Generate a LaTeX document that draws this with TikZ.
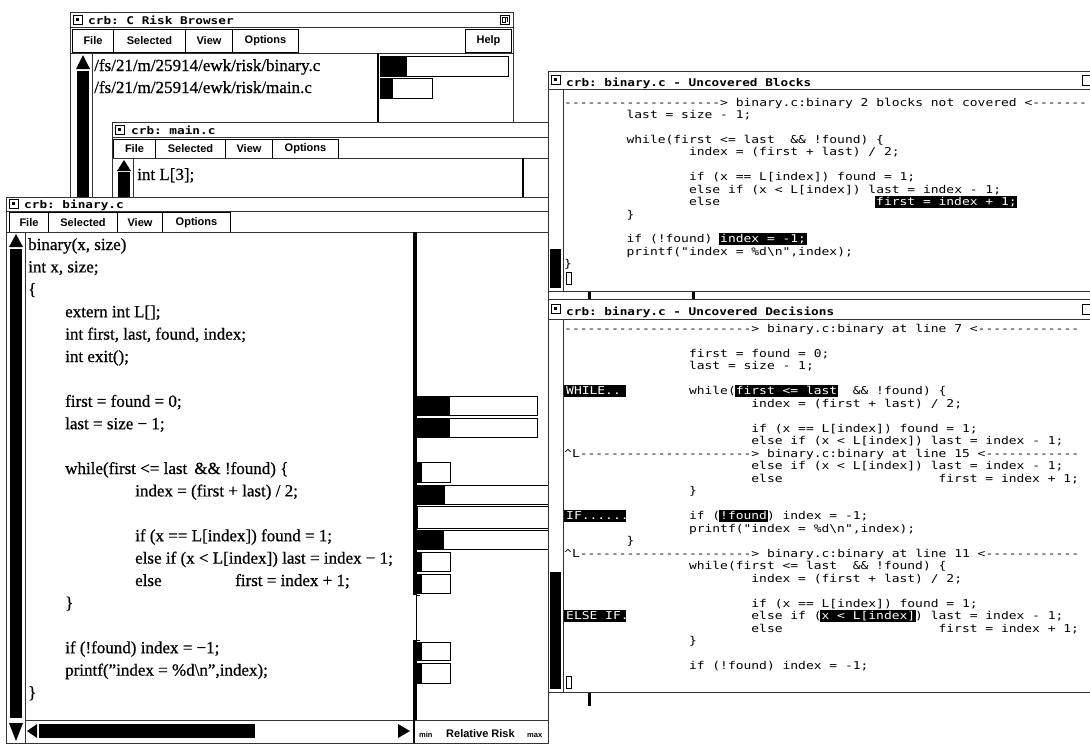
\documentclass[tikz,border=0pt]{standalone}
\usepackage{fontspec}
\setmainfont[FakeBold=0.6]{Liberation Serif}
\newfontfamily\monof[FakeStretch=1.2,Ligatures=TeXOff]{DejaVu Sans Mono}
\newfontfamily\uif{Liberation Sans}
\tikzset{
  frame/.style={draw=black!80, line width=0.9pt, fill=white},
  rule/.style={draw=black!80, line width=0.7pt},
  ttl/.style={anchor=base west, inner sep=0pt, font=\monof\bfseries\fontsize{10.6}{12}\selectfont},
  mbtn/.style={draw=black, line width=1pt, fill=white, inner sep=0pt, anchor=north west, font=\uif\bfseries\fontsize{11}{12}\selectfont},
  src/.style={anchor=base west, inner sep=0pt, font=\fontsize{17}{20}\selectfont},
  mono/.style={anchor=base west, inner sep=0pt, font=\monof\fontsize{10.8}{12}\selectfont},
  hl/.style={mono, text=white},
  bar/.style={draw=black, line width=0.8pt, fill=white},
  lbl/.style={anchor=base west, inner sep=0pt, font=\uif\bfseries\fontsize{11}{12}\selectfont},
  tiny/.style={anchor=base west, inner sep=0pt, font=\uif\bfseries\fontsize{7.5}{9}\selectfont},
}
% text helpers: column/row placement in the two report windows
\newcommand\topln[3]{\node[mono] at ({564+(#1)*7.8},{106+(#2)*12.45}) {#3};}
\newcommand\tophl[4]{\fill ({563+(#1)*7.8},{96.5+(#2)*12.45}) rectangle ({565+(#1+#3)*7.8},{108.5+(#2)*12.45});
  \node[hl] at ({564+(#1)*7.8},{106+(#2)*12.45}) {#4};}
\newcommand\botln[3]{\node[mono] at ({564+(#1)*7.8},{332+(#2)*12.5}) {#3};}
\newcommand\bothl[4]{\fill ({563+(#1)*7.8},{322.5+(#2)*12.5}) rectangle ({565+(#1+#3)*7.8},{334.5+(#2)*12.5});
  \node[hl] at ({564+(#1)*7.8},{332+(#2)*12.5}) {#4};}
\newcommand\botlbl[2]{\fill (564,{322.5+(#1)*12.5}) rectangle (626,{334.5+(#1)*12.5});
  \node[hl] at (566,{332+(#1)*12.5}) {#2};}
\newcommand\srcln[3]{\node[src] at (#1,{250+(#2)*22.4}) {#3};}
\newcommand\winicon[2]{\draw[line width=0.6pt] (#1,#2) rectangle ++(9,9); \fill ({#1+3},{#2+3}) rectangle ++(3,3);}
\newcommand\riskbar[4]{\draw[bar] (417,#1) rectangle (#4,#2); \fill (417,#1) rectangle (#3,#2);}
\begin{document}
\frenchspacing
\begin{tikzpicture}[x=1pt,y=-1pt]
\useasboundingbox[fill=white] (0,0) rectangle (1090,745);

% ---------- browser window ----------
\path[frame] (70,12) rectangle (513,205);
\path[rule] (70,27) -- (513,27);
\winicon{73}{15}
\node[ttl] (brtitle) at (88,24) {crb: C Risk Browser};
\draw[line width=0.6pt] (500,15) rectangle ++(9,9);
\draw[line width=0.6pt] (502,17) rectangle ++(3,5) (505,17) -- ++(2,0) -- ++(0,5);
\node[mbtn, minimum width=41, minimum height=23] (brfile) at (72,29) {File};
\node[mbtn, minimum width=72, minimum height=23] (brsel) at (113,29) {Selected};
\node[mbtn, minimum width=47, minimum height=23] (brview) at (185,29) {View};
\node[mbtn, minimum width=66, minimum height=23] (bropt) at (232,29) {Options};
\node[mbtn, minimum width=46, minimum height=23] (brhelp) at (465,29) {Help};
\path[rule] (70,53) -- (513,53);
\fill (83,55) -- (90,69) -- (76,69) -- cycle;
\fill (77,71) rectangle (89,205);
\path[rule] (92,53) -- (92,205);
\node[src] (p1) at (94,71) {/fs/21/m/25914/ewk/risk/binary.c};
\node[src] (p2) at (94,93) {/fs/21/m/25914/ewk/risk/main.c};
\draw[line width=1.2pt] (378,53) -- (378,205);
\draw[bar] (380,56) rectangle (508,76); \fill (380,56) rectangle (407,76);
\draw[bar] (380,78) rectangle (432,98); \fill (380,78) rectangle (393,98);

% ---------- main.c window ----------
\path[frame] (112,122) rectangle (548,205);
\path[rule] (112,137) -- (548,137);
\winicon{115}{125}
\node[ttl] (mntitle) at (131,134) {crb: main.c};
\node[mbtn, minimum width=42, minimum height=19] (mnfile) at (113,139) {File};
\node[mbtn, minimum width=70, minimum height=19] (mnsel) at (155,139) {Selected};
\node[mbtn, minimum width=47, minimum height=19] (mnview) at (225,139) {View};
\node[mbtn, minimum width=66, minimum height=19] (mnopt) at (272,139) {Options};
\path[rule] (112,158) -- (548,158);
\fill (124,160) -- (131,171) -- (117,171) -- cycle;
\fill (118,172) rectangle (130,205);
\path[rule] (133,158) -- (133,205);
\node[src] (mnsrc) at (137,180) {int L[3];};
\draw[line width=1.2pt] (523,158) -- (523,205);

% ---------- binary.c source window ----------
\path[frame] (6,197) rectangle (548,743);
\path[rule] (6,211) -- (548,211);
\winicon{9}{199}
\node[ttl] (bntitle) at (24,208) {crb: binary.c};
\node[mbtn, minimum width=39, minimum height=20] (bnfile) at (9,212) {File};
\node[mbtn, minimum width=69, minimum height=20] (bnsel) at (48,212) {Selected};
\node[mbtn, minimum width=45, minimum height=20] (bnview) at (117,212) {View};
\node[mbtn, minimum width=68, minimum height=20] (bnopt) at (162,212) {Options};
\path[rule] (6,232) -- (548,232);
% vertical scrollbar
\fill (16,234) -- (23,247) -- (9,247) -- cycle;
\fill (10,249) rectangle (22,718);
\fill (16,741) -- (23,723) -- (9,723) -- cycle;
\path[rule] (25,232) -- (25,743);
% source text
\srcln{28}{0}{binary(x, size)}
\srcln{28}{1}{int x, size;}
\srcln{28}{2}{\{}
\srcln{65}{3}{extern int L[];}
\srcln{65}{4}{int first, last, found, index;}
\srcln{65}{5}{int exit();}
\srcln{65}{7}{first = found = 0;}
\srcln{65}{8}{last = size − 1;}
\srcln{65}{10}{while(first <= last\hspace{7pt}\&\& !found) \{}
\srcln{135}{11}{index = (first + last) / 2;}
\srcln{135}{13}{if (x == L[index]) found = 1;}
\srcln{135}{14}{else if (x < L[index]) last = index − 1;}
\srcln{135}{15}{else}
\srcln{235}{15}{first = index + 1;}
\srcln{65}{16}{\}}
\srcln{65}{18}{if (!found) index = −1;}
\srcln{65}{19}{printf("index = \%d\textbackslash n",index);}
\srcln{28}{20}{\}}
% divider between code and risk column
\fill (413,232) rectangle (417,595);
\draw[line width=0.8pt] (416,595) -- (416,640);
\draw[line width=0.8pt] (416,595) -- (420,595) (416,640) -- (420,640);
\fill (413,640) rectangle (417,720);
% risk bars
\riskbar{396}{415}{450}{537}
\riskbar{418}{437}{450}{537}
\riskbar{462}{482}{422}{450}
\riskbar{485}{504}{445}{548}
\draw[bar] (417,506) rectangle (548,528);
\riskbar{530}{549}{444}{548}
\riskbar{552}{571}{422}{450}
\riskbar{574}{593}{422}{450}
\riskbar{642}{660}{422}{450}
\riskbar{663}{683}{422}{450}
% horizontal scrollbar and scale
\path[rule] (25,720) -- (548,720);
\fill (27,731) -- (37,724) -- (37,738) -- cycle;
\fill (39,724) rectangle (255,738);
\fill (410,731) -- (398,724) -- (398,738) -- cycle;
\draw[line width=1.2pt] (414,720) -- (414,743);
\node[tiny] (rmin) at (419,737) {min};
\node[lbl] (rrisk) at (446,737) {Relative Risk};
\node[tiny] (rmax) at (527,737) {max};

% ---------- uncovered blocks window ----------
\fill (588,289) rectangle (591,300);
\fill (692,289) rectangle (695,300);
\fill (588,690) rectangle (591,706);
\begin{scope}
\clip (546,69) rectangle (1090,293);
\path[frame] (548,71) rectangle (1100,291);
\path[rule] (548,89) -- (1100,89);
\winicon{551}{75}
\node[ttl] (ubtitle) at (566,86) {crb: binary.c - Uncovered Blocks};
\draw[line width=0.6pt] (1082,75) rectangle ++(9,10);
\path[rule] (563,89) -- (563,291);
\fill (550,249) rectangle (561,288);
\topln{0}{0}{--------------------> binary.c:binary 2 blocks not covered <-------}
\topln{8}{1}{last = size - 1;}
\topln{8}{3}{while(first <= last}
\topln{29}{3}{\&\& !found) \{}
\topln{16}{4}{index = (first + last) / 2;}
\topln{16}{6}{if (x == L[index]) found = 1;}
\topln{16}{7}{else if (x < L[index]) last = index - 1;}
\topln{16}{8}{else}
\tophl{40}{8}{18}{first = index + 1;}
\topln{8}{9}{\}}
\topln{8}{11}{if (!found)}
\tophl{20}{11}{11}{index = -1;}
\topln{8}{12}{printf("index = \%d\textbackslash n",index);}
\topln{0}{13}{\}}
\draw[line width=0.7pt] (566,272) rectangle (571,284);
\end{scope}

% ---------- uncovered decisions window ----------
\begin{scope}
\clip (546,297) rectangle (1090,694);
\path[frame] (548,299) rectangle (1100,692);
\path[rule] (548,319) -- (1100,319);
\winicon{551}{304}
\node[ttl] (udtitle) at (566,315) {crb: binary.c - Uncovered Decisions};
\draw[line width=0.6pt] (1082,304) rectangle ++(9,10);
\path[rule] (563,319) -- (563,692);
\fill (550,572) rectangle (561,689);
\botln{0}{0}{------------------------> binary.c:binary at line 7 <-------------}
\botln{16}{2}{first = found = 0;}
\botln{16}{3}{last = size - 1;}
\botlbl{5}{WHILE..}
\botln{16}{5}{while(}
\bothl{22}{5}{13}{first <= last}
\botln{37}{5}{\&\& !found) \{}
\botln{24}{6}{index = (first + last) / 2;}
\botln{24}{8}{if (x == L[index]) found = 1;}
\botln{24}{9}{else if (x < L[index]) last = index - 1;}
\botln{0}{10}{\textasciicircum L----------------------> binary.c:binary at line 15 <------------}
\botln{24}{11}{else if (x < L[index]) last = index - 1;}
\botln{24}{12}{else}
\botln{48}{12}{first = index + 1;}
\botln{16}{13}{\}}
\botlbl{15}{IF......}
\botln{16}{15}{if (}
\bothl{20}{15}{6}{!found}
\botln{26}{15}{) index = -1;}
\botln{16}{16}{printf("index = \%d\textbackslash n",index);}
\botln{8}{17}{\}}
\botln{0}{18}{\textasciicircum L----------------------> binary.c:binary at line 11 <------------}
\botln{16}{19}{while(first <= last}
\botln{37}{19}{\&\& !found) \{}
\botln{24}{20}{index = (first + last) / 2;}
\botln{24}{22}{if (x == L[index]) found = 1;}
\botlbl{23}{ELSE IF.}
\botln{24}{23}{else if (}
\bothl{33}{23}{12}{x < L[index]}
\botln{45}{23}{) last = index - 1;}
\botln{24}{24}{else}
\botln{48}{24}{first = index + 1;}
\botln{16}{25}{\}}
\botln{16}{27}{if (!found) index = -1;}
\draw[line width=0.7pt] (566,676) rectangle (571,688);
\end{scope}
\end{tikzpicture}
\end{document}
